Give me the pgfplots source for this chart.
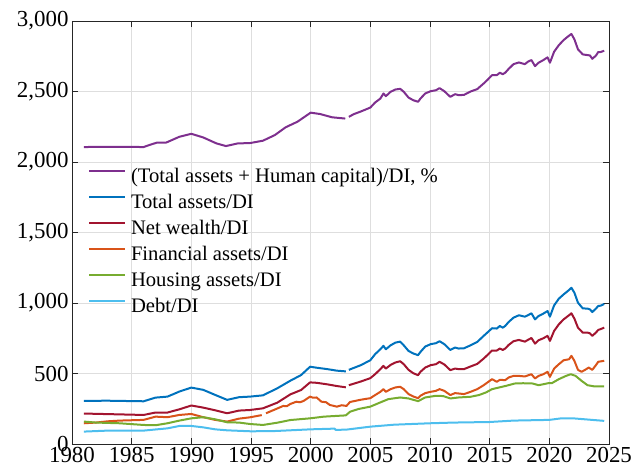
\documentclass[border=0pt]{standalone}
\usepackage{pgfplots}
\pgfplotsset{compat=1.18}
\usepackage{fontspec}
\setmainfont{Liberation Serif}
\definecolor{mpurple}{rgb}{0.494,0.184,0.556}
\definecolor{mblue}{rgb}{0,0.447,0.741}
\definecolor{mred}{rgb}{0.635,0.078,0.184}
\definecolor{morange}{rgb}{0.850,0.325,0.098}
\definecolor{mgreen}{rgb}{0.466,0.674,0.188}
\definecolor{mlblue}{rgb}{0.301,0.745,0.933}
\definecolor{axgray}{rgb}{0.15,0.15,0.15}
\begin{document}
\begin{tikzpicture}
\begin{axis}[
  width=537bp, height=423bp, scale only axis,
  xmin=1980, xmax=2025, ymin=0, ymax=3000,
  xtick={1980,1985,...,2025}, ytick={0,500,...,3000},
  /pgf/number format/assume math mode=true,
  xticklabel style={/pgf/number format/1000 sep={}},
  yticklabel style={/pgf/number format/1000 sep={,}},
  tick label style={font=\fontsize{23}{27}\selectfont},
  grid=major,
  major grid style={color=black!13, line width=0.5bp},
  axis line style={color=axgray, line width=0.6bp},
  tick style={color=axgray, line width=0.6bp},
  tick align=inside, major tick length=6bp,
  unbounded coords=jump,
  every axis plot/.append style={line width=2bp, line join=round},
  legend cell align=left,
  legend image code/.code={\draw[#1] (0bp,6.5bp) -- (36bp,6.5bp); \path (0bp,0bp);},
  legend style={at={(0.0298,0.6596)}, anchor=north west, draw=none, fill=none,
    inner sep=0pt, outer sep=0pt, row sep=0pt, column sep=5bp,
    font=\fontsize{20.7}{24}\selectfont,
    nodes={inner sep=0pt, text height=18bp, text depth=8bp}},
]
\addplot[mpurple] coordinates {(1981,2106) (1982,2107) (1983,2108) (1984,2108) (1985,2107) (1986,2106) (1986.5,2121) (1987.1,2137) (1987.9,2138) (1989.0,2179) (1990.0,2200) (1991.0,2174) (1992.1,2132) (1992.9,2113) (1993.9,2132) (1994.9,2134) (1996.0,2151) (1997.0,2191) (1997.9,2246) (1998.9,2286) (2000.0,2350) (2000.8,2340) (2001.8,2317) (2002.9,2308) (2003.05,nan) (2003.2,2320) (2003.6,2339) (2004.2,2358) (2005,2386) (2005.4,2422) (2005.84,2450) (2006.1,2486) (2006.3,2467) (2006.7,2498) (2007.1,2514) (2007.5,2519) (2007.8,2498) (2008.2,2457) (2008.6,2438) (2009.0,2427) (2009.2,2450) (2009.6,2486) (2010.05,2502) (2010.5,2509) (2010.8,2524) (2011.2,2502) (2011.7,2462) (2012.1,2481) (2012.4,2474) (2012.85,2476) (2013.4,2500) (2013.96,2517) (2014.5,2557) (2014.8,2581) (2015.2,2616) (2015.6,2616) (2015.85,2633) (2016.1,2623) (2016.3,2633) (2016.6,2661) (2017.0,2694) (2017.45,2706) (2017.95,2694) (2018.2,2711) (2018.5,2723) (2018.8,2680) (2019.1,2704) (2019.5,2723) (2019.85,2742) (2020.05,2704) (2020.4,2782) (2020.8,2829) (2021.2,2865) (2021.65,2896) (2021.85,2908) (2022.1,2870) (2022.4,2799) (2022.8,2763) (2023.2,2758) (2023.4,2756) (2023.6,2732) (2023.9,2754) (2024.1,2780) (2024.3,2780) (2024.6,2789)};
\addlegendentry{(Total assets + Human capital)/DI, \%}
\addplot[mblue] coordinates {(1981,306) (1983,307) (1986,303) (1987,329) (1988,336) (1989,372) (1990,400) (1991,384) (1992,348) (1993,313) (1994,332) (1994.9,336) (1996,345) (1997.2,395) (1998.3,449) (1999.2,489) (1999.95,548) (2000.5,541) (2001.4,531) (2002.2,520) (2002.95,515) (2003.05,nan) (2003.2,526) (2004.2,559) (2005,594) (2005.4,637) (2005.84,672) (2006.1,696) (2006.3,672) (2006.7,700) (2007.1,719) (2007.5,726) (2007.8,700) (2008.2,660) (2008.6,642) (2009.0,630) (2009.2,653) (2009.6,691) (2010.05,708) (2010.5,715) (2010.8,729) (2011.2,708) (2011.7,667) (2012.1,684) (2012.4,677) (2012.85,679) (2013.4,700) (2013.96,724) (2014.5,767) (2014.8,790) (2015.2,821) (2015.6,819) (2015.85,837) (2016.1,825) (2016.3,837) (2016.6,866) (2017.0,896) (2017.45,913) (2017.95,903) (2018.2,913) (2018.5,927) (2018.8,884) (2019.1,908) (2019.5,925) (2019.85,943) (2020.05,903) (2020.4,983) (2020.8,1031) (2021.2,1061) (2021.65,1092) (2021.85,1108) (2022.1,1073) (2022.4,1002) (2022.8,962) (2023.2,960) (2023.4,955) (2023.6,936) (2023.9,960) (2024.1,979) (2024.3,981) (2024.6,993)};
\addlegendentry{Total assets/DI}
\addplot[mred] coordinates {(1981,216) (1983,212) (1986,206) (1987,223) (1988,223) (1989,246) (1990,273) (1991,258) (1992,239) (1993,218) (1994,237) (1994.9,241) (1996,253) (1997.2,293) (1998.3,352) (1999.2,383) (1999.95,437) (2000.5,434) (2001.4,423) (2002.2,411) (2002.95,402) (2003.05,nan) (2003.2,417) (2004.2,443) (2005,467) (2005.4,495) (2005.84,531) (2006.1,554) (2006.3,535) (2006.7,561) (2007.1,578) (2007.5,587) (2007.8,566) (2008.2,526) (2008.6,502) (2009.0,488) (2009.2,512) (2009.6,542) (2010.05,559) (2010.5,566) (2010.8,583) (2011.2,564) (2011.7,524) (2012.1,535) (2012.4,531) (2012.85,531) (2013.4,550) (2013.96,568) (2014.5,606) (2014.8,630) (2015.2,663) (2015.6,663) (2015.85,677) (2016.1,667) (2016.3,677) (2016.6,703) (2017.0,729) (2017.45,738) (2017.95,726) (2018.2,738) (2018.5,752) (2018.8,712) (2019.1,736) (2019.5,750) (2019.85,767) (2020.05,731) (2020.4,802) (2020.8,849) (2021.2,884) (2021.65,913) (2021.85,927) (2022.1,889) (2022.4,825) (2022.8,790) (2023.2,790) (2023.4,785) (2023.6,767) (2023.9,790) (2024.1,809) (2024.3,815) (2024.6,825)};
\addlegendentry{Net wealth/DI}
\addplot[morange] coordinates {(1981,147) (1982,152) (1983,161) (1984,166) (1986,171) (1987,194) (1988,190) (1989,206) (1990,213) (1991,190) (1992,171) (1993,159) (1994,180) (1994.9,189) (1995.9,205) (1996.05,nan) (1996.26,218) (1996.9,241) (1997.7,270) (1998.0,268) (1998.3,284) (1998.8,300) (1999.1,296) (1999.4,305) (1999.95,336) (2000.2,328) (2000.5,330) (2000.9,300) (2001.3,296) (2001.6,277) (2002.2,265) (2002.6,275) (2003.0,270) (2003.3,298) (2004.2,314) (2005,325) (2005.4,347) (2005.84,370) (2006.1,389) (2006.3,370) (2006.7,389) (2007.1,401) (2007.5,406) (2007.8,389) (2008.2,354) (2008.6,337) (2009.0,325) (2009.2,342) (2009.6,361) (2010.05,370) (2010.5,377) (2010.8,389) (2011.2,377) (2011.7,347) (2012.1,361) (2012.85,354) (2013.4,370) (2013.96,389) (2014.5,417) (2015.2,460) (2015.6,441) (2015.85,455) (2016.3,453) (2016.6,472) (2017.0,483) (2017.45,483) (2017.95,479) (2018.5,495) (2018.8,465) (2019.1,483) (2019.5,495) (2019.85,512) (2020.05,476) (2020.4,535) (2020.8,566) (2021.2,594) (2021.65,601) (2021.85,625) (2022.1,590) (2022.4,526) (2022.7,512) (2023.0,526) (2023.3,542) (2023.6,526) (2023.9,559) (2024.1,583) (2024.6,590)};
\addlegendentry{Financial assets/DI}
\addplot[mgreen] coordinates {(1981,159) (1982,152) (1984,147) (1986,135) (1987,133) (1988,147) (1989,166) (1990,182) (1991,190) (1992,175) (1993,154) (1994,152) (1994.9,142) (1996.0,135) (1997.2,151) (1998.3,170) (1999.95,182) (2001.1,194) (2002.95,203) (2003.3,229) (2004,248) (2005,265) (2005.84,295) (2006.5,318) (2007.5,330) (2008.2,323) (2009,304) (2009.6,330) (2010.5,342) (2011.1,340) (2011.7,323) (2012.4,330) (2013.4,335) (2014.1,347) (2014.7,366) (2015.2,389) (2015.8,401) (2016.4,413) (2017.1,429) (2017.8,431) (2018.6,429) (2019.1,417) (2019.9,431) (2020.2,431) (2020.8,460) (2021.4,483) (2021.8,495) (2022.2,483) (2022.7,448) (2023.2,417) (2023.8,408) (2024.6,408)};
\addlegendentry{Housing assets/DI}
\addplot[mlblue] coordinates {(1981,88) (1983,95) (1986,95) (1988,111) (1989,128) (1990,128) (1991,118) (1992,104) (1993,97) (1995,90) (1997,92) (2000,104) (2002.0,109) (2002.1,100) (2003,102) (2005,123) (2007,137) (2010,147) (2012,152) (2015,156) (2017,166) (2020,171) (2021,182) (2022,182) (2023,175) (2024.6,164)};
\addlegendentry{Debt/DI}
\end{axis}
\pgfresetboundingbox
\useasboundingbox ([xshift=-72bp,yshift=-30bp]current axis.south west) rectangle ([xshift=25bp,yshift=21bp]current axis.north east);
\end{tikzpicture}
\end{document}
